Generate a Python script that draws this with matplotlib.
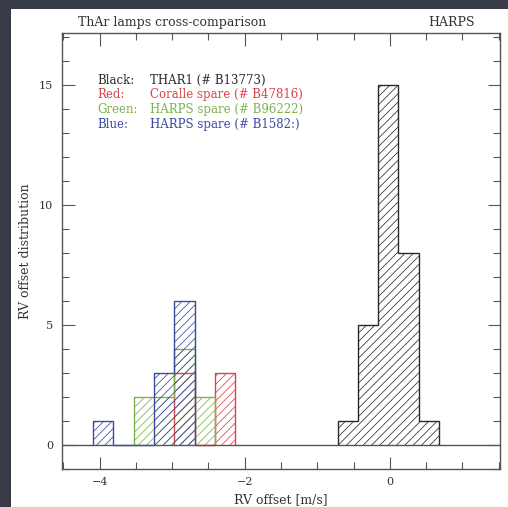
import numpy as np
import matplotlib.pyplot as plt
from matplotlib.patches import Rectangle
from matplotlib.ticker import MultipleLocator

# bin edges and counts (RV offset in m/s)
black_edges = [-0.72, -0.44, -0.16, 0.12, 0.40, 0.68]
black_counts = [1, 5, 15, 8, 1]

green_edges = [-3.53, -3.25, -2.97, -2.69, -2.41]
green_counts = [2, 2, 4, 2]

red_edges = [-2.97, -2.69, -2.41, -2.13]
red_counts = [3, 0, 3]

blue_edges = [-4.09, -3.81, -3.53, -3.25, -2.97, -2.69]
blue_counts = [1, 0, 0, 3, 6]

legend_keys = ['Black:', 'Red:', 'Green:', 'Blue:']
legend_names = ['THAR1 (# B13773)', 'Coralle spare (# B47816)',
                'HARPS spare (# B96222)', 'HARPS spare (# B1582:)']
legend_colors = ['#2b2b2b', '#d9434b', '#7cb44a', '#3c4a9c']

plt.rcParams['font.family'] = 'DejaVu Serif'
plt.rcParams['hatch.linewidth'] = 0.55

fig = plt.figure(figsize=(5.08, 5.07), dpi=100)
fig.patch.set_facecolor('#363b47')
# white slide panel behind the plot
panel = Rectangle((11 / 508, 0), 1, 1 - 9 / 507, transform=fig.transFigure,
                  facecolor='white', edgecolor='none', zorder=-10)
fig.add_artist(panel)

ax = fig.add_axes([62 / 508, 1 - 469 / 507, 438 / 508, 436 / 507])
ax.set_facecolor('white')

hists = [(red_edges, red_counts, legend_colors[1]),
         (green_edges, green_counts, legend_colors[2]),
         (blue_edges, blue_counts, legend_colors[3]),
         (black_edges, black_counts, legend_colors[0])]
for edges, counts, col in hists:
    ax.stairs(counts, edges, baseline=0, fill=True, facecolor='none',
              edgecolor=col, hatch='////', linewidth=1.0)

ax.axhline(0, color='#555555', lw=1.0)

ax.set_xlim(-4.52, 1.52)
ax.set_ylim(-1.02, 17.17)
ax.xaxis.set_minor_locator(MultipleLocator(0.5))
ax.yaxis.set_major_locator(MultipleLocator(5))
ax.yaxis.set_minor_locator(MultipleLocator(1))
ax.tick_params(which='both', direction='in', top=True, right=True,
               colors='#555555', labelcolor='#333333', labelsize=8)
ax.tick_params(which='major', length=9, width=0.8)
ax.tick_params(which='minor', length=5, width=0.8)
ax.tick_params(axis='y', pad=6.5)
ax.tick_params(axis='x', pad=6)
ax.set_xticks([-4, -2, 0])
ax.set_xticklabels(['\u22124', '\u22122', '0'])
for s in ax.spines.values():
    s.set_color('#555555')
    s.set_linewidth(1.0)

ax.set_xlabel('RV offset [m/s]', fontsize=9, color='#333333', labelpad=4)
ax.set_ylabel('RV offset distribution', fontsize=9, color='#333333')
ax.yaxis.set_label_coords(-0.068, 0.5)

ax.text(0.036, 1.023, 'ThAr lamps cross-comparison', transform=ax.transAxes,
        fontsize=9, color='#333333', va='center', ha='left')
ax.text(0.943, 1.023, 'HARPS', transform=ax.transAxes,
        fontsize=9, color='#333333', va='center', ha='right')

for i, (k, name, col) in enumerate(zip(legend_keys, legend_names, legend_colors)):
    y = 0.892 - i * 0.0337
    ax.text(0.080, y, k, transform=ax.transAxes, fontsize=8.5, color=col, va='center')
    ax.text(0.200, y, name, transform=ax.transAxes, fontsize=8.5, color=col, va='center')

fig.savefig('out.png', dpi=100, facecolor=fig.get_facecolor())
